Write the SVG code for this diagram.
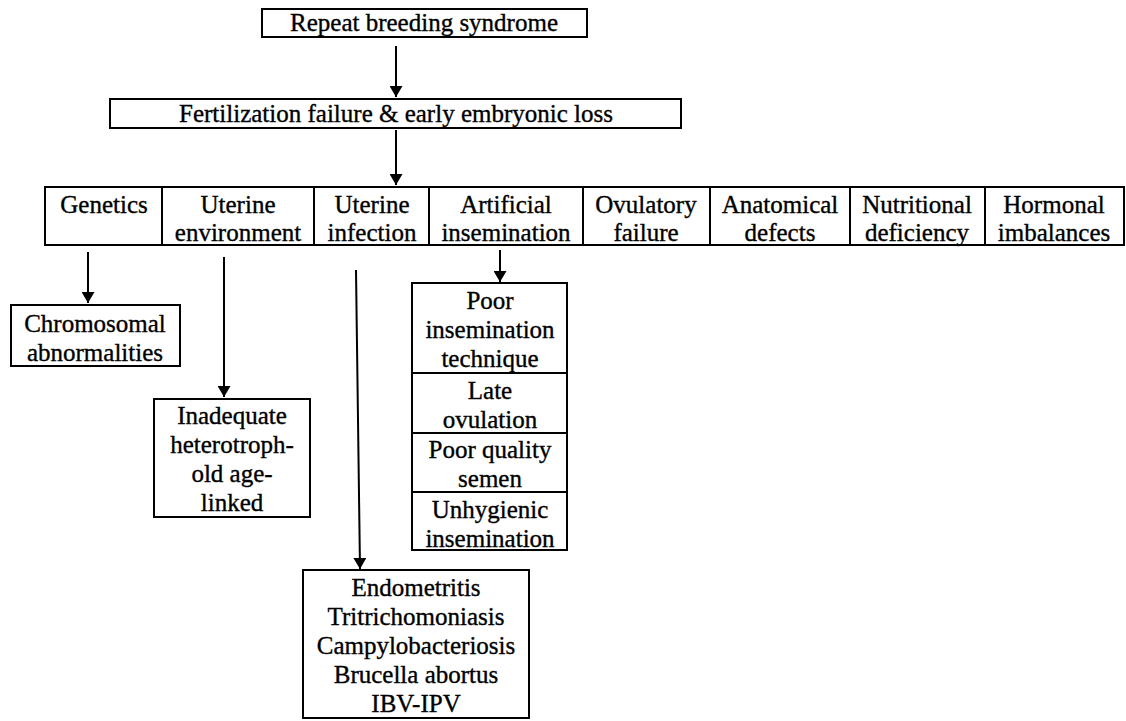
<svg xmlns="http://www.w3.org/2000/svg" width="1126" height="721" viewBox="0 0 1126 721">
<style>
.box{fill:#fff;stroke:#000;stroke-width:2}
.t{font-family:'Liberation Serif','Times New Roman',serif;font-size:25px;fill:#000;stroke:#000;stroke-width:0.35;text-anchor:middle}
.c{stroke:#000;stroke-width:2;fill:none}
</style>
<defs>
<marker id="ah" viewBox="0 0 11 13" refX="11" refY="6.5" markerWidth="11" markerHeight="13" markerUnits="userSpaceOnUse" orient="auto">
<path d="M0,0 L11,6.5 L0,13 Z" fill="#000"/>
</marker>
</defs>
<rect width="1126" height="721" fill="#fff"/>
<g id="connectors">
<line class="c" x1="396" y1="46" x2="396" y2="97" marker-end="url(#ah)"/>
<line class="c" x1="396" y1="130" x2="396" y2="185" marker-end="url(#ah)"/>
<line class="c" x1="88" y1="252" x2="88" y2="303" marker-end="url(#ah)"/>
<line class="c" x1="224" y1="257" x2="224" y2="397" marker-end="url(#ah)"/>
<line class="c" x1="356" y1="270" x2="360" y2="569" marker-end="url(#ah)"/>
<line class="c" x1="500" y1="250" x2="500" y2="282" marker-end="url(#ah)"/>
</g>
<g id="n-repeat">
<rect class="box" x="262" y="9" width="325" height="28"/>
<text class="t" x="424" y="31">Repeat breeding syndrome</text>
</g>
<g id="n-fert">
<rect class="box" x="110" y="99" width="571" height="29"/>
<text class="t" x="396" y="122">Fertilization failure &amp; early embryonic loss</text>
</g>
<g id="n-row">
<rect class="box" x="45" y="187" width="1079" height="58"/>
<line class="c" x1="162" y1="187" x2="162" y2="245"/>
<line class="c" x1="314" y1="187" x2="314" y2="245"/>
<line class="c" x1="429" y1="187" x2="429" y2="245"/>
<line class="c" x1="583" y1="187" x2="583" y2="245"/>
<line class="c" x1="710" y1="187" x2="710" y2="245"/>
<line class="c" x1="850" y1="187" x2="850" y2="245"/>
<line class="c" x1="985" y1="187" x2="985" y2="245"/>
</g>
<g id="n-genetics"><text class="t" x="104" y="213">Genetics</text></g>
<g id="n-uterenv"><text class="t" x="238" y="213">Uterine</text><text class="t" x="238" y="241">environment</text></g>
<g id="n-uterinf"><text class="t" x="372" y="213">Uterine</text><text class="t" x="372" y="241">infection</text></g>
<g id="n-ai"><text class="t" x="506" y="213">Artificial</text><text class="t" x="506" y="241">insemination</text></g>
<g id="n-ovul"><text class="t" x="646" y="213">Ovulatory</text><text class="t" x="646" y="241">failure</text></g>
<g id="n-anat"><text class="t" x="780" y="213">Anatomical</text><text class="t" x="780" y="241">defects</text></g>
<g id="n-nutr"><text class="t" x="917" y="213">Nutritional</text><text class="t" x="917" y="241">deficiency</text></g>
<g id="n-horm"><text class="t" x="1054" y="213">Hormonal</text><text class="t" x="1054" y="241">imbalances</text></g>
<g id="n-chrom">
<rect class="box" x="11" y="305" width="169" height="61"/>
<text class="t" x="95" y="332">Chromosomal</text>
<text class="t" x="95" y="361">abnormalities</text>
</g>
<g id="n-inadequate">
<rect class="box" x="154" y="399" width="156" height="118"/>
<text class="t" x="232" y="424">Inadequate</text>
<text class="t" x="232" y="453">heterotroph-</text>
<text class="t" x="232" y="482">old age-</text>
<text class="t" x="232" y="511">linked</text>
</g>
<g id="n-aistack">
<rect class="box" x="412" y="283" width="155" height="267"/>
<line class="c" x1="412" y1="373" x2="567" y2="373"/>
<line class="c" x1="412" y1="433" x2="567" y2="433"/>
<line class="c" x1="412" y1="492" x2="567" y2="492"/>
<text class="t" x="490" y="309">Poor</text>
<text class="t" x="490" y="338">insemination</text>
<text class="t" x="490" y="367">technique</text>
<text class="t" x="490" y="399">Late</text>
<text class="t" x="490" y="428">ovulation</text>
<text class="t" x="490" y="458">Poor quality</text>
<text class="t" x="490" y="487">semen</text>
<text class="t" x="490" y="518">Unhygienic</text>
<text class="t" x="490" y="547">insemination</text>
</g>
<g id="n-infections">
<rect class="box" x="303" y="570" width="226" height="148"/>
<text class="t" x="416" y="596">Endometritis</text>
<text class="t" x="416" y="625">Tritrichomoniasis</text>
<text class="t" x="416" y="654">Campylobacteriosis</text>
<text class="t" x="416" y="683">Brucella abortus</text>
<text class="t" x="416" y="712">IBV-IPV</text>
</g>
</svg>
